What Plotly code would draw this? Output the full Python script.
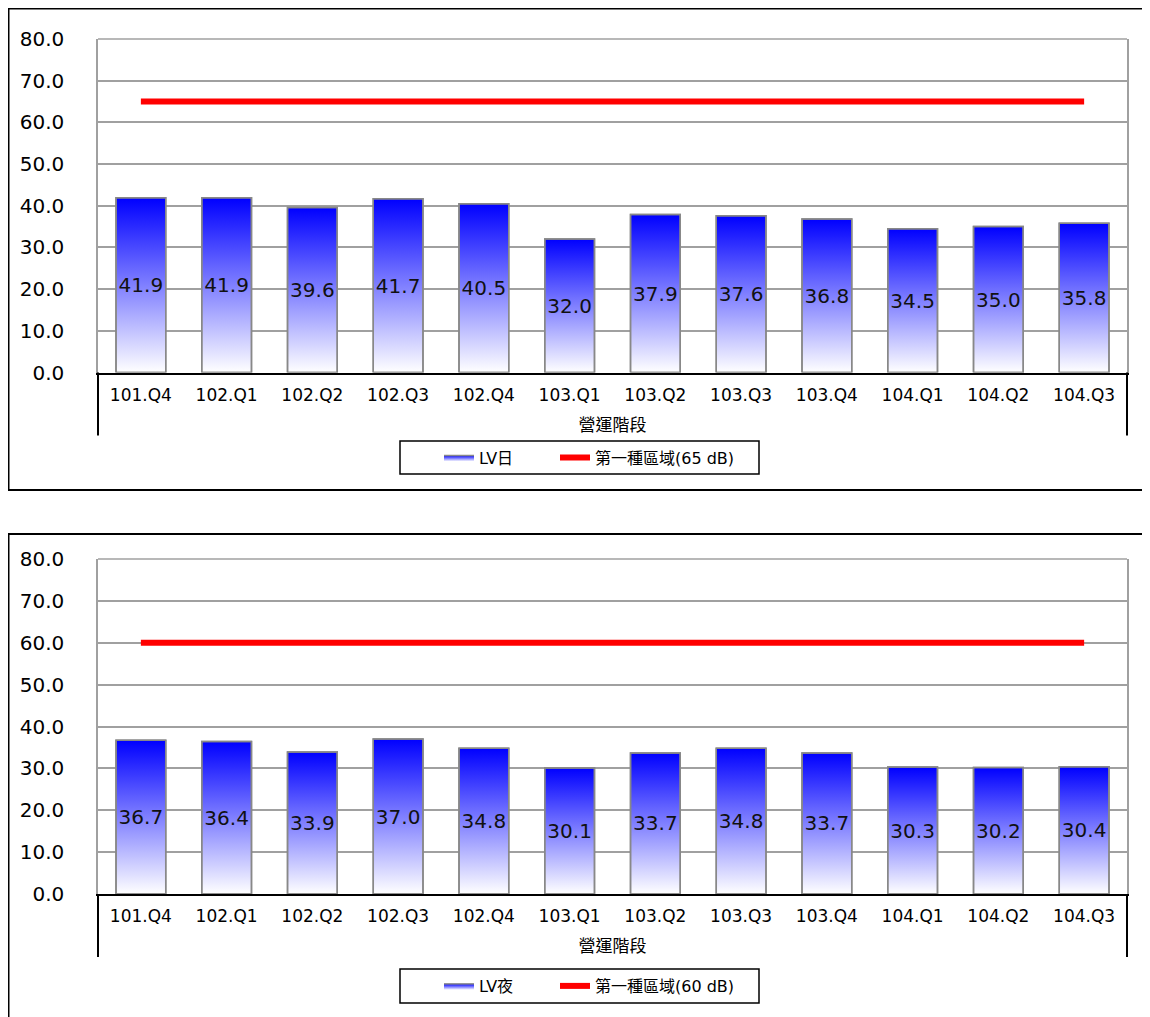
import plotly.graph_objects as go

categories = ["101.Q4", "102.Q1", "102.Q2", "102.Q3", "102.Q4", "103.Q1",
              "103.Q2", "103.Q3", "103.Q4", "104.Q1", "104.Q2", "104.Q3"]
lv_day = [41.9, 41.9, 39.6, 41.7, 40.5, 32.0, 37.9, 37.6, 36.8, 34.5, 35.0, 35.8]
lv_night = [36.7, 36.4, 33.9, 37.0, 34.8, 30.1, 33.7, 34.8, 33.7, 30.3, 30.2, 30.4]
limit_day = 65
limit_night = 60
day_name = "LV日"
night_name = "LV夜"
limit_day_name = "第一種區域(65 dB)"
limit_night_name = "第一種區域(60 dB)"
axis_title = "營運階段"
y_ticks = [0, 10, 20, 30, 40, 50, 60, 70, 80]

FONT = "DejaVu Sans, Noto Sans CJK TC, sans-serif"
BAR_W = 0.58
HW = BAR_W / 2
xs_idx = list(range(len(categories)))

# page body has an 8px margin; map screenshot pixels to paper coords
OFF = 8
W, H = 1150 - OFF, 1017 - OFF


def px(x):
    return (x - OFF) / W


def py(y):
    return 1 - (y - OFF) / H


fig = go.Figure()


def add_chart(values, limit, name, limit_name, xa, ya, xo, yo, leg_a, leg_b):
    for i, v in enumerate(values):
        fig.add_trace(go.Scatter(
            x=[i - HW, i - HW, i + HW, i + HW, i - HW],
            y=[0, v, v, 0, 0],
            mode="lines", fill="toself",
            line=dict(color="#888888", width=1.5),
            fillgradient=dict(type="vertical", start=0, stop=v,
                              colorscale=[[0, "#ffffff"], [1, "#0000ff"]]),
            name=name, legendgroup=name, showlegend=(i == 0),
            legend=leg_a, hoverinfo="skip",
            xaxis=xa, yaxis=ya))
    fig.add_trace(go.Bar(
        x=xs_idx, y=values, width=BAR_W,
        marker=dict(color="rgba(0,0,0,0)", line=dict(color="#888888", width=1.5)),
        texttemplate="%{y:.1f}", textposition="inside", insidetextanchor="middle",
        textangle=0, constraintext="none",
        textfont=dict(family=FONT, size=20, color="#111111"),
        name=name, showlegend=False, legend=leg_a,
        xaxis=xo, yaxis=yo))
    fig.add_trace(go.Scatter(
        x=xs_idx, y=[limit] * len(categories), mode="lines",
        line=dict(color="#ff0000", width=6),
        name=limit_name, legend=leg_b, xaxis=xo, yaxis=yo))


add_chart(lv_day, limit_day, day_name, limit_day_name, "x", "y", "x3", "y3", "legend", "legend3")
add_chart(lv_night, limit_night, night_name, limit_night_name, "x2", "y2", "x4", "y4", "legend2", "legend4")

XD = [px(98), px(1127)]
YD_TOP = [py(372.5), py(39)]
YD_BOT = [py(894), py(559)]

xbase = dict(range=[-0.5, len(categories) - 0.5], tickmode="array", tickvals=xs_idx,
             ticktext=categories, showgrid=False, zeroline=False, showline=True,
             linecolor="#000000", linewidth=2, ticks="", ticklabelstandoff=6,
             tickfont=dict(family=FONT, size=17, color="#000000"),
             title=dict(text=axis_title, font=dict(family=FONT, size=17, color="#000000"),
                        standoff=15),
             domain=XD, fixedrange=True, automargin=False)
ybase = dict(range=[0, 80], tickmode="array", tickvals=y_ticks, tickformat=".1f",
             showgrid=True, gridcolor="#a0a0a0", gridwidth=1.5, zeroline=False,
             showline=True, linecolor="#a0a0a0", linewidth=1.5, mirror=True,
             ticks="", ticklabelstandoff=28,
             tickfont=dict(family=FONT, size=20, color="#000000"),
             fixedrange=True, automargin=False)
xover = dict(range=[-0.5, len(categories) - 0.5], visible=False, fixedrange=True,
             automargin=False)
yover = dict(range=[0, 80], visible=False, fixedrange=True, automargin=False)

leg_common = dict(orientation="h", xanchor="left", yanchor="middle",
                  borderwidth=0, bgcolor="rgba(0,0,0,0)",
                  font=dict(family=FONT, size=16, color="#000000"))

fig.update_layout(
    width=W, height=H,
    margin=dict(l=0, r=0, t=0, b=0, autoexpand=False),
    paper_bgcolor="white", plot_bgcolor="white",
    font=dict(family=FONT, color="#000000"),
    barmode="overlay",
    xaxis=dict(xbase, anchor="y"),
    yaxis=dict(ybase, domain=YD_TOP, anchor="x"),
    xaxis2=dict(xbase, anchor="y2"),
    yaxis2=dict(ybase, domain=YD_BOT, anchor="x2"),
    xaxis3=dict(xover, overlaying="x", anchor="y3"),
    yaxis3=dict(yover, overlaying="y", anchor="x3"),
    xaxis4=dict(xover, overlaying="x2", anchor="y4"),
    yaxis4=dict(yover, overlaying="y2", anchor="x4"),
    legend=dict(leg_common, x=px(439), y=py(457.5)),
    legend3=dict(leg_common, x=px(555), y=py(457.5)),
    legend2=dict(leg_common, x=px(439), y=py(986)),
    legend4=dict(leg_common, x=px(555), y=py(986)),
    hovermode=False,
)

shapes = [
    # outer chart frames
    dict(type="rect", xref="paper", yref="paper", x0=px(8.5), x1=1.02,
         y0=py(490), y1=py(8.5), line=dict(color="#000000", width=2)),
    dict(type="rect", xref="paper", yref="paper", x0=px(8.5), x1=1.02,
         y0=-0.02, y1=py(534), line=dict(color="#000000", width=2)),
    # legend frames
    dict(type="rect", xref="paper", yref="paper", x0=px(400), x1=px(759),
         y0=py(474), y1=py(441), line=dict(color="#000000", width=1.5)),
    dict(type="rect", xref="paper", yref="paper", x0=px(400), x1=px(759),
         y0=py(1003), y1=py(969), line=dict(color="#000000", width=1.5)),
]
for xr, yr, d in (("x domain", "y domain", 63 / 333.5), ("x2 domain", "y2 domain", 63 / 335)):
    for xv in (0, 1):
        shapes.append(dict(type="line", xref=xr, yref=yr, x0=xv, x1=xv, y0=0, y1=-d,
                           line=dict(color="#000000", width=2)))
    shapes.append(dict(type="line", xref=xr, yref=yr, x0=0, x1=1, y0=1, y1=1,
                       line=dict(color="#a0a0a0", width=1.5), layer="below"))
fig.update_layout(shapes=shapes)

fig.write_html("out.html")
